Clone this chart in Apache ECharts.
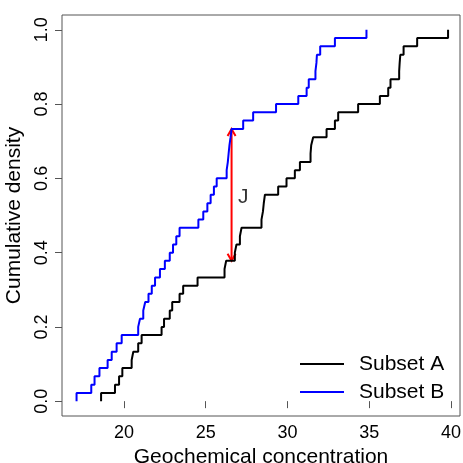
<!DOCTYPE html>
<html>
<head>
<meta charset="utf-8">
<script src="https://cdn.jsdelivr.net/npm/echarts@6/dist/echarts.min.js"></script>
<style>
html,body{margin:0;padding:0;background:#fff;}
#chart{width:463px;height:463px;}
</style>
</head>
<body>
<div id="chart"></div>
<script>
// Subset A (black): jump positions and ECDF level after each jump
var subsetAX = [18.6, 19.45, 19.7, 19.9, 20.47, 20.57, 20.87, 21.08, 22.3, 22.45, 22.8, 22.95, 23.4, 23.62,
  24.5, 26.15, 26.25, 26.78, 26.88, 27.09, 27.19, 28.41, 28.5, 28.55, 28.62, 29.43, 29.94, 30.45, 30.76,
  31.41, 31.45, 31.57, 32.39, 32.9, 33.1, 34.32, 35.65, 36.16, 36.3, 36.83, 36.86, 36.9, 37.1, 37.93, 39.82];
var subsetAY = [0.022, 0.044, 0.067, 0.089, 0.111, 0.133, 0.156, 0.178, 0.2, 0.222, 0.244, 0.267, 0.289, 0.311,
  0.333, 0.356, 0.378, 0.4, 0.422, 0.444, 0.467, 0.489, 0.511, 0.533, 0.556, 0.578, 0.6, 0.622, 0.644,
  0.667, 0.689, 0.711, 0.733, 0.756, 0.778, 0.8, 0.822, 0.844, 0.867, 0.889, 0.911, 0.933, 0.956, 0.978, 1.0];
// Subset B (blue)
var subsetBX = [17.1, 18.0, 18.2, 18.5, 19.0, 19.25, 19.55, 19.86, 20.87, 20.98, 21.18, 21.3, 21.5, 21.7,
  21.9, 22.2, 22.5, 22.8, 23.0, 23.2, 23.4, 24.55, 24.85, 25.1, 25.3, 25.5, 25.67, 26.28, 26.35,
  26.4, 26.45, 26.52, 26.58, 27.29, 27.9, 29.3, 30.66, 31.17, 31.3, 31.71, 31.77, 31.8, 32.0, 32.9, 34.83];
var subsetBY = [0.022, 0.044, 0.067, 0.089, 0.111, 0.133, 0.156, 0.178, 0.2, 0.222, 0.244, 0.267, 0.289, 0.311,
  0.333, 0.356, 0.378, 0.4, 0.422, 0.444, 0.467, 0.489, 0.511, 0.533, 0.556, 0.578, 0.6, 0.622, 0.644,
  0.667, 0.689, 0.711, 0.733, 0.756, 0.778, 0.8, 0.822, 0.844, 0.867, 0.889, 0.911, 0.933, 0.956, 0.978, 1.0];
// J statistic arrow
var arrowX = 26.58;
var arrowLow = 0.378;
var arrowHigh = 0.733;
var labelJ = [27.3, 0.55];
// ticks
var xTicks = [20, 25, 30, 35, 40];
var yTicks = [0, 0.2, 0.4, 0.6, 0.8, 1.0];
var seriesNames = ['Subset A', 'Subset B'];

function stepPath(xs, ys) {
  var pts = [];
  var prev = 0;
  for (var i = 0; i < xs.length; i++) {
    pts.push([xs[i], prev]);
    pts.push([xs[i], ys[i]]);
    if (i + 1 < xs.length) pts.push([xs[i + 1], ys[i]]);
    prev = ys[i];
  }
  return pts;
}

var FONT = '"Liberation Sans", Arial, sans-serif';
var chart = echarts.init(document.getElementById('chart'), null, {renderer: 'canvas'});
chart.setOption({
  animation: false,
  backgroundColor: '#fff',
  grid: {left: 62, right: 3, top: 15, bottom: 47, show: true, borderColor: '#555', borderWidth: 1,
    containLabel: false, outerBoundsMode: 'none'},
  legend: {
    data: seriesNames,
    orient: 'vertical',
    left: 295, top: 347,
    icon: 'rect',
    itemWidth: 44, itemHeight: 2,
    itemGap: 4,
    textStyle: {fontFamily: FONT, fontSize: 21, color: '#000', padding: [0, 0, 0, 10], lineHeight: 24}
  },
  xAxis: {
    type: 'value', min: 16.21, max: 40.55,
    splitLine: {show: false},
    axisLine: {show: false},
    axisTick: {show: true, length: 7, lineStyle: {color: '#555'}, customValues: xTicks},
    axisLabel: {customValues: xTicks, fontFamily: FONT, fontSize: 18, color: '#000', margin: 8},
    name: 'Geochemical concentration', nameLocation: 'middle', nameGap: 22,
    nameTextStyle: {fontFamily: FONT, fontSize: 21, color: '#000'}
  },
  yAxis: {
    type: 'value', min: -0.04, max: 1.04,
    splitLine: {show: false},
    axisLine: {show: false},
    axisTick: {show: true, length: 7, lineStyle: {color: '#555'}, customValues: yTicks},
    axisLabel: {customValues: yTicks, fontFamily: FONT, fontSize: 18, color: '#000', margin: 11, rotate: 90,
      formatter: function (v) { return v.toFixed(1); }},
    name: 'Cumulative density', nameLocation: 'middle', nameGap: 22, nameRotate: 90,
    nameTextStyle: {fontFamily: FONT, fontSize: 21, color: '#000'}
  },
  series: [
    {name: seriesNames[0], type: 'line', data: stepPath(subsetAX, subsetAY), showSymbol: false, symbol: 'none',
      lineStyle: {color: '#000', width: 2}, itemStyle: {color: '#000'}},
    {name: seriesNames[1], type: 'line', data: stepPath(subsetBX, subsetBY), showSymbol: false, symbol: 'none',
      lineStyle: {color: '#0000ff', width: 2}, itemStyle: {color: '#0000ff'}},
    {name: 'J', type: 'custom', data: [[arrowX, arrowLow, arrowHigh]],
      renderItem: function (params, api) {
        var p1 = api.coord([api.value(0), api.value(1)]);
        var p2 = api.coord([api.value(0), api.value(2)]);
        var st = {stroke: '#ff0000', lineWidth: 2, fill: null};
        return {type: 'group', children: [
          {type: 'line', shape: {x1: p1[0], y1: p1[1], x2: p2[0], y2: p2[1]}, style: st},
          {type: 'polyline', shape: {points: [[p2[0] - 4, p2[1] + 7], [p2[0], p2[1]], [p2[0] + 4, p2[1] + 7]]}, style: st},
          {type: 'polyline', shape: {points: [[p1[0] - 4, p1[1] - 7], [p1[0], p1[1]], [p1[0] + 4, p1[1] - 7]]}, style: st}
        ]};
      }},
    {name: 'Jlabel', type: 'scatter', data: [labelJ], symbolSize: 0,
      label: {show: true, position: 'inside', formatter: 'J', fontFamily: FONT, fontSize: 21, color: '#000'}}
  ]
});
</script>
</body>
</html>
